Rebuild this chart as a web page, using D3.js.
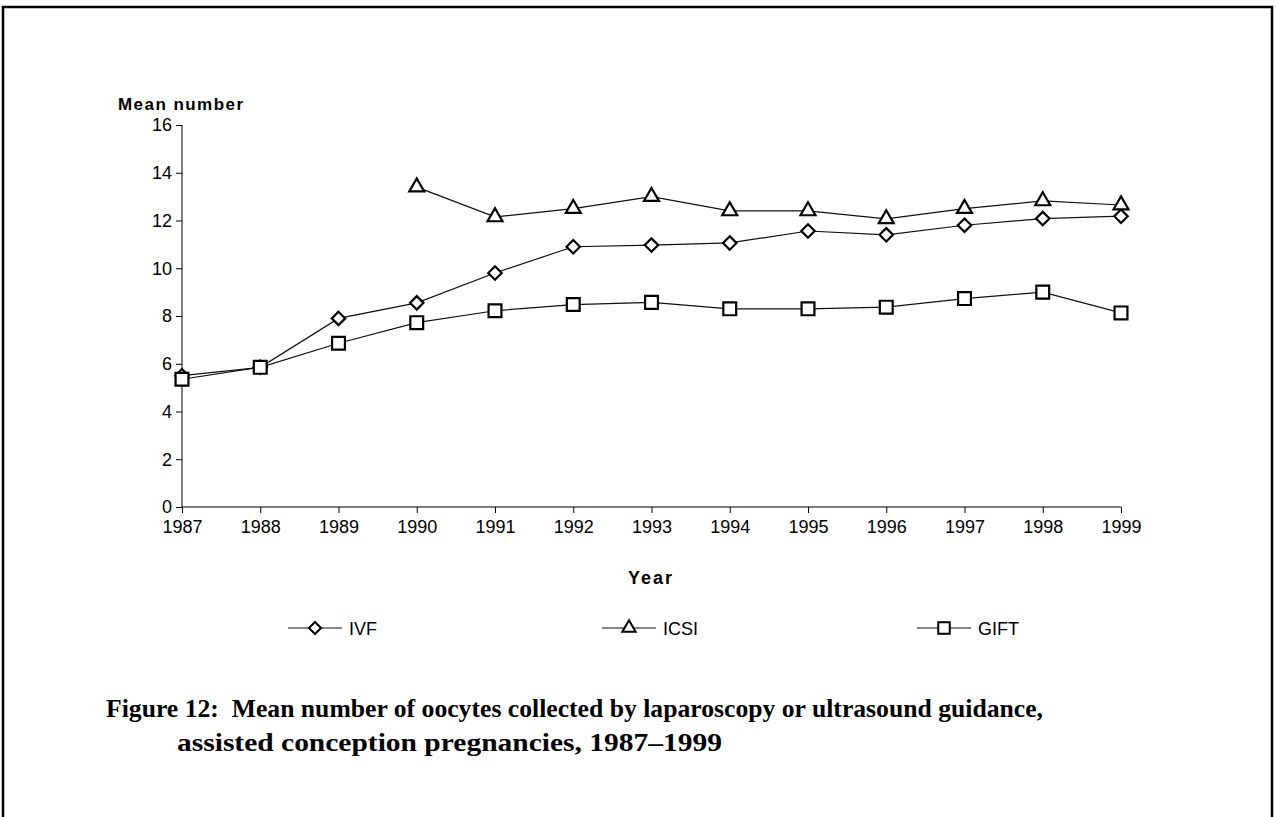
<!DOCTYPE html>
<html><head><meta charset="utf-8">
<script src="https://cdn.jsdelivr.net/npm/d3@7"></script>
<style>body{margin:0;background:#fff}svg{display:block}</style>
</head><body>
<script>
const years = [1987,1988,1989,1990,1991,1992,1993,1994,1995,1996,1997,1998,1999];
const ivf  = [5.5,5.85,7.9,8.55,9.8,10.9,10.97,11.06,11.56,11.4,11.8,12.08,12.18];
const icsi = [null,null,null,13.4,12.15,12.5,13.0,12.4,12.4,12.07,12.5,12.82,12.65];
const gift = [5.35,5.85,6.86,7.72,8.22,8.48,8.57,8.3,8.3,8.37,8.73,9.0,8.13];
const yTicks = [0,2,4,6,8,10,12,14,16];
const seriesNames = ["IVF","ICSI","GIFT"];
const captionLines = ["Figure 12:  Mean number of oocytes collected by laparoscopy or ultrasound guidance,","assisted conception pregnancies, 1987\u20131999"];

const W=1276,H=817;
const svg=d3.select("body").append("svg").attr("width",W).attr("height",H);
svg.append("rect").attr("x",3).attr("y",7).attr("width",1269).attr("height",H+20)
  .attr("fill","none").attr("stroke","#000").attr("stroke-width",2.5);

const x=d3.scalePoint().domain(years).range([182,1121]);
const y=d3.scaleLinear().domain([0,16]).range([507,125]);
const font="Arial, 'Liberation Sans', sans-serif";

const gy=svg.append("g").attr("transform","translate(182,0)")
  .call(d3.axisLeft(y).tickValues(yTicks).tickSize(6).tickPadding(4));
gy.select(".domain").attr("stroke","#000").attr("d","M0,125V507");
gy.selectAll("text").attr("font-family",font).attr("font-size",18).attr("fill","#000");
const gx=svg.append("g").attr("transform","translate(0,507)")
  .call(d3.axisBottom(x).tickSize(6).tickPadding(4));
gx.select(".domain").attr("stroke","#000").attr("d","M182,0H1121");
gx.selectAll("text").attr("font-family",font).attr("font-size",18).attr("fill","#000").attr("dy","0.9em");

svg.append("text").attr("x",118).attr("y",110).attr("font-family",font).attr("font-weight","bold")
  .attr("font-size",17).attr("textLength",125).attr("lengthAdjust","spacing").text("Mean number");
svg.append("text").attr("x",628).attr("y",584).attr("font-family",font)
  .attr("font-weight","bold").attr("font-size",18).attr("textLength",44).attr("lengthAdjust","spacing").text("Year");

const symbols=[d3.symbolDiamond2,d3.symbolTriangle2,d3.symbolSquare2];
const sizes=[115,160,210];
const data=[ivf,icsi,gift];
const line=d3.line().defined(d=>d.v!=null).x(d=>x(d.yr)).y(d=>y(d.v));
data.forEach((arr,i)=>{
  const pts=years.map((yr,j)=>({yr,v:arr[j]}));
  svg.append("path").datum(pts).attr("d",line).attr("fill","none").attr("stroke","#111").attr("stroke-width",1.2);
});
data.forEach((arr,i)=>{
  const pts=years.map((yr,j)=>({yr,v:arr[j]})).filter(d=>d.v!=null);
  svg.selectAll(null).data(pts).enter().append("path")
    .attr("d",d3.symbol().type(symbols[i]).size(sizes[i]))
    .attr("transform",d=>`translate(${x(d.yr)},${y(d.v)})`)
    .attr("fill","#fff").attr("stroke","#000").attr("stroke-width",2.2);
});

// legend
const legX=[288,602,917];
seriesNames.forEach((n,i)=>{
  const g=svg.append("g").attr("transform",`translate(${legX[i]},628)`);
  g.append("line").attr("x1",0).attr("x2",54).attr("stroke","#111").attr("stroke-width",1.2);
  g.append("path").attr("d",d3.symbol().type(symbols[i]).size(sizes[i]*0.8)).attr("transform","translate(27,0)")
    .attr("fill","#fff").attr("stroke","#000").attr("stroke-width",2);
  g.append("text").attr("x",61).attr("y",6.5).attr("font-family",font).attr("font-size",18).text(n);
});

const serif="'Liberation Serif','Times New Roman',serif";
svg.append("text").attr("x",106).attr("y",717).attr("font-family",serif)
  .attr("font-weight","bold").attr("font-size",25).attr("textLength",937).attr("lengthAdjust","spacingAndGlyphs")
  .style("white-space","pre").text(captionLines[0]);
svg.append("text").attr("x",177).attr("y",751).attr("font-family",serif)
  .attr("font-weight","bold").attr("font-size",25).attr("textLength",545).attr("lengthAdjust","spacingAndGlyphs")
  .text(captionLines[1]);
</script>
</body></html>
